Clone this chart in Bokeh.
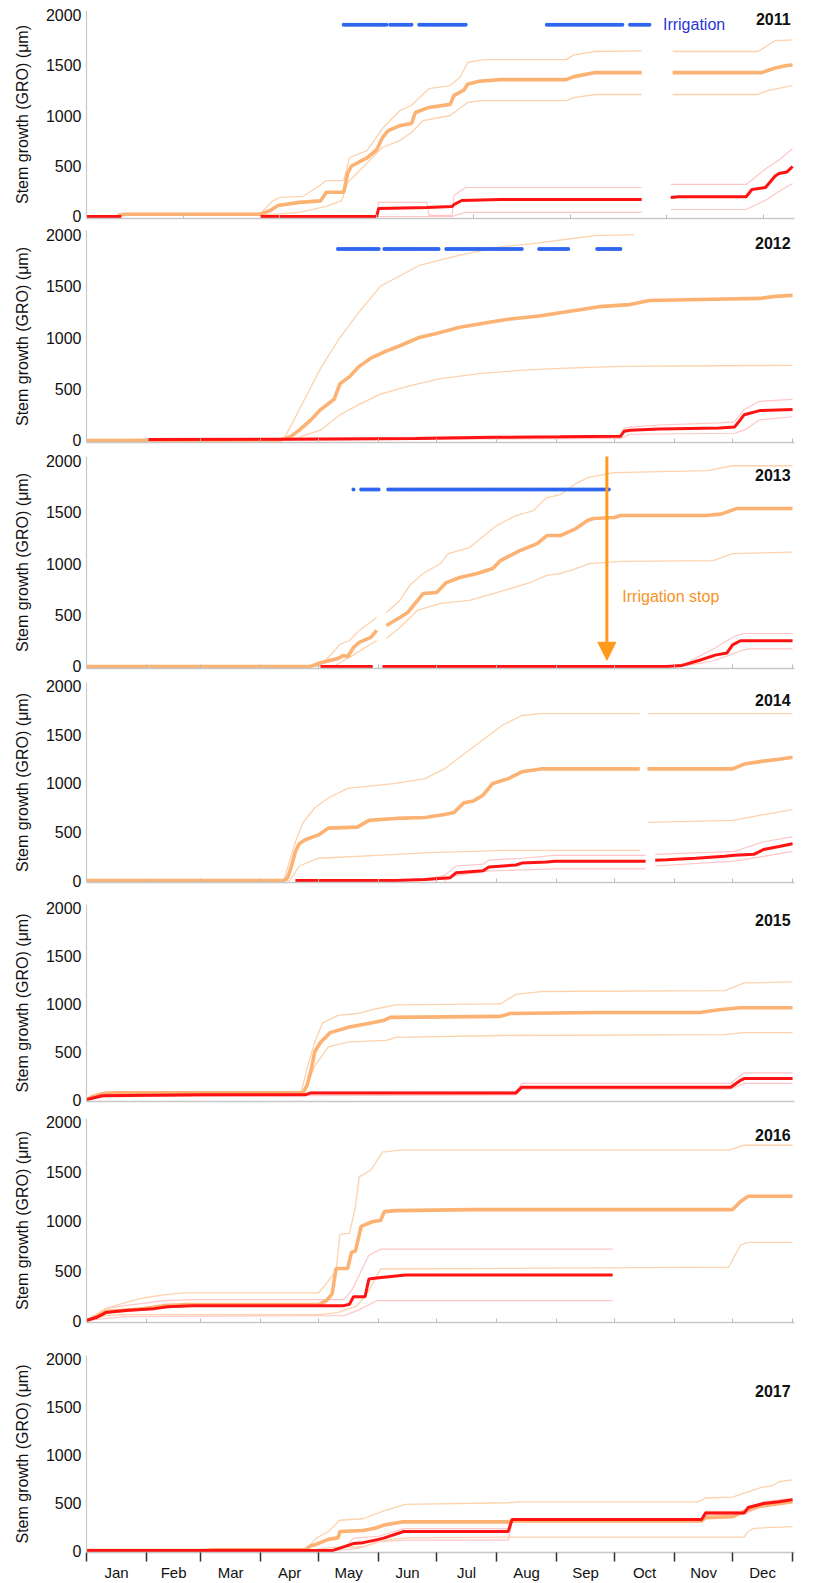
import math
from bokeh.plotting import figure
from bokeh.layouts import column
from bokeh.models import Range1d, FixedTicker, Arrow, NormalHead, Label
from bokeh.embed import file_html
from bokeh.resources import INLINE

GAP = None  # break in a series

YEARS = [2011, 2012, 2013, 2014, 2015, 2016, 2017]
MONTHS = ["Jan", "Feb", "Mar", "Apr", "May", "Jun", "Jul", "Aug", "Sep", "Oct", "Nov", "Dec"]
MONTH_START = [0, 31, 59, 90, 120, 151, 181, 212, 243, 273, 304, 334, 365]
Y_TICKS = [0, 500, 1000, 1500, 2000]
TICKS_2011 = [50, 100, 150, 200, 250, 300, 350]

# (day of year, stem growth in um); OM/OU/OL = irrigated mean/upper/lower, RM/RU/RL = control mean/upper/lower
OM_2011 = [(16, 10), (20, 22), (90, 22), (95, 60), (99, 109), (110, 140), (121, 155), (124, 240), (133, 240), (135, 430), (137, 500), (145, 580), (150, 660), (153, 780), (156, 850), (162, 900), (168, 920), (170, 1030), (177, 1080), (188, 1110), (190, 1200), (195, 1250), (197, 1310), (203, 1340), (214, 1355), (248, 1355), (252, 1385), (263, 1425), (287, 1425), GAP, (303, 1425), (349, 1425), (356, 1470), (362, 1495), (365, 1500)]
OU_2011 = [(16, 15), (20, 30), (90, 30), (96, 150), (100, 190), (112, 200), (120, 300), (124, 356), (133, 356), (136, 584), (145, 653), (153, 871), (162, 1049), (168, 1099), (177, 1267), (188, 1297), (193, 1376), (197, 1525), (205, 1554), (248, 1554), (252, 1600), (263, 1634), (287, 1640), GAP, (303, 1634), (347, 1634), (352, 1693), (356, 1742), (365, 1750)]
OL_2011 = [(16, 5), (20, 15), (92, 15), (100, 25), (110, 40), (124, 100), (132, 158), (135, 337), (153, 683), (162, 752), (168, 832), (174, 950), (188, 1000), (197, 1129), (203, 1148), (248, 1148), (252, 1178), (263, 1208), (287, 1208), GAP, (303, 1208), (347, 1208), (352, 1247), (365, 1297)]
RM_2011 = [(0, 0), (18, 0), GAP, (90, 0), (150, 0), (151, 80), (176, 90), (189, 100), (190, 119), (194, 158), (214, 168), (287, 168), GAP, (302, 188), (306, 195), (341, 195), (344, 267), (351, 287), (356, 400), (358, 425), (362, 440), (365, 495)]
RU_2011 = [(150, 0), (151, 139), (176, 139), (177, 10), (189, 10), (190, 210), (196, 287), (287, 287), GAP, (302, 317), (341, 317), (352, 485), (358, 560), (365, 673)]
RL_2011 = [(150, 0), (189, 0), (196, 40), (287, 40), GAP, (302, 69), (341, 69), (352, 170), (358, 250), (365, 327)]

OM_2012 = [(0, 0), (100, 5), (105, 30), (110, 100), (116, 200), (121, 300), (128, 400), (131, 550), (136, 620), (141, 720), (147, 800), (154, 860), (162, 920), (172, 1000), (183, 1050), (193, 1100), (209, 1150), (219, 1180), (234, 1210), (255, 1270), (265, 1300), (281, 1320), (291, 1360), (317, 1370), (348, 1380), (356, 1400), (365, 1410)]
OU_2012 = [(0, 0), (102, 10), (110, 300), (121, 700), (131, 1000), (141, 1250), (152, 1500), (172, 1700), (193, 1800), (214, 1880), (234, 1920), (250, 1960), (263, 1990), (283, 2000)]
OL_2012 = [(0, 0), (105, 0), (121, 100), (131, 250), (141, 350), (152, 450), (167, 530), (183, 600), (203, 650), (224, 680), (245, 700), (276, 720), (365, 730)]
RM_2012 = [(32, 8), (100, 12), (130, 15), (170, 20), (210, 30), (245, 35), (276, 40), (278, 90), (281, 100), (296, 110), (327, 120), (335, 130), (338, 200), (340, 250), (348, 290), (365, 300)]
RU_2012 = [(32, 10), (276, 45), (278, 120), (281, 130), (296, 150), (327, 170), (335, 180), (340, 300), (348, 380), (365, 400)]
RL_2012 = [(32, 0), (276, 20), (281, 60), (335, 70), (340, 100), (348, 200), (365, 230)]

OM_2013 = [(0, 0), (116, 0), (120, 30), (130, 78), (133, 107), (135, 95), (138, 184), (141, 233), (147, 282), (150, 350), GAP, (155, 398), (162, 476), (166, 524), (174, 708), (181, 718), (186, 815), (193, 864), (202, 903), (210, 951), (214, 1029), (224, 1126), (233, 1194), (238, 1272), (245, 1272), (253, 1340), (259, 1418), (262, 1437), (273, 1447), (276, 1466), (320, 1466), (328, 1480), (336, 1534), (365, 1534)]
OU_2013 = [(0, 0), (120, 0), (127, 126), (131, 214), (136, 252), (141, 350), (150, 476), GAP, (155, 524), (162, 641), (167, 786), (174, 903), (183, 1000), (187, 1097), (198, 1155), (212, 1369), (222, 1466), (231, 1515), (238, 1641), (245, 1670), (253, 1777), (259, 1835), (273, 1884), (321, 1903), (334, 1950), (365, 1950)]
OL_2013 = [(0, 0), (128, 0), (133, 58), (137, 100), (150, 252), GAP, (155, 272), (162, 379), (171, 544), (183, 612), (198, 641), (212, 718), (228, 806), (238, 884), (245, 903), (253, 951), (260, 1000), (276, 1020), (324, 1029), (334, 1097), (365, 1110)]
RM_2013 = [(121, 0), (148, 0), GAP, (153, 0), (300, 0), (308, 10), (317, 60), (325, 110), (331, 130), (334, 210), (338, 250), (365, 250)]
RU_2013 = [(300, 0), (310, 30), (317, 100), (325, 180), (331, 250), (336, 300), (340, 320), (365, 320)]
RL_2013 = [(305, 0), (317, 30), (325, 60), (331, 100), (338, 150), (342, 170), (365, 170)]

OM_2014 = [(0, 0), (102, 0), (104, 30), (106, 150), (108, 300), (110, 380), (113, 420), (120, 470), (125, 540), (140, 550), (146, 620), (160, 640), (175, 650), (185, 680), (190, 700), (195, 800), (200, 820), (205, 880), (210, 1000), (218, 1050), (225, 1120), (235, 1150), (286, 1150), GAP, (290, 1150), (334, 1150), (340, 1200), (350, 1230), (358, 1250), (365, 1270)]
OU_2014 = [(0, 0), (102, 0), (105, 200), (108, 400), (112, 600), (118, 750), (125, 850), (135, 950), (150, 980), (160, 1000), (175, 1050), (185, 1150), (195, 1300), (205, 1450), (215, 1600), (225, 1700), (235, 1720), (286, 1720), GAP, (290, 1720), (365, 1720)]
OL_2014 = [(0, 0), (105, 0), (110, 150), (120, 230), (140, 250), (160, 270), (180, 290), (200, 300), (215, 310), (286, 310), GAP, (290, 600), (334, 620), (350, 680), (365, 730)]
RM_2014 = [(108, 0), (160, 0), (175, 10), (188, 30), (191, 80), (205, 100), (208, 140), (222, 160), (225, 180), (238, 190), (242, 200), (289, 200), GAP, (294, 210), (300, 215), (315, 230), (330, 250), (335, 260), (345, 270), (350, 320), (358, 350), (365, 380)]
RU_2014 = [(170, 0), (185, 50), (191, 150), (205, 170), (208, 210), (225, 230), (242, 260), (289, 260), GAP, (294, 270), (335, 300), (350, 400), (365, 450)]
RL_2014 = [(185, 0), (191, 50), (208, 100), (242, 120), (289, 120), GAP, (294, 150), (335, 200), (350, 250), (365, 300)]

OM_2015 = [(0, 0), (3, 30), (8, 60), (15, 70), (112, 70), (114, 150), (116, 300), (118, 500), (121, 600), (126, 700), (136, 760), (147, 800), (154, 830), (157, 860), (214, 870), (219, 900), (265, 910), (317, 910), (327, 940), (338, 960), (365, 960)]
OU_2015 = [(0, 0), (10, 80), (111, 80), (115, 400), (118, 600), (122, 800), (130, 880), (140, 900), (150, 950), (160, 990), (214, 1000), (222, 1100), (235, 1130), (330, 1140), (340, 1220), (365, 1230)]
OL_2015 = [(0, 0), (10, 50), (112, 50), (118, 350), (125, 550), (135, 600), (155, 620), (160, 650), (214, 670), (330, 680), (340, 700), (365, 700)]
RM_2015 = [(0, 0), (4, 20), (8, 40), (60, 50), (113, 50), (116, 70), (222, 70), (225, 130), (333, 130), (338, 200), (340, 220), (365, 220)]
RU_2015 = [(0, 0), (10, 60), (113, 60), (116, 80), (222, 80), (225, 170), (333, 170), (340, 280), (365, 280)]
RL_2015 = [(0, 0), (10, 30), (113, 40), (222, 50), (225, 110), (333, 110), (340, 170), (365, 170)]

OM_2016 = [(0, 0), (5, 40), (10, 90), (18, 100), (30, 120), (40, 150), (50, 160), (120, 160), (124, 200), (127, 270), (129, 525), (135, 525), (137, 690), (139, 700), (142, 950), (148, 1000), (152, 1010), (154, 1100), (160, 1110), (200, 1120), (334, 1120), (338, 1200), (342, 1255), (365, 1255)]
OU_2016 = [(0, 0), (10, 120), (20, 180), (30, 230), (40, 260), (50, 280), (120, 280), (123, 350), (129, 500), (131, 870), (136, 880), (139, 1150), (141, 1450), (147, 1520), (149, 1580), (153, 1700), (162, 1720), (332, 1720), (340, 1770), (365, 1770)]
OL_2016 = [(0, 0), (10, 50), (20, 60), (120, 60), (130, 80), (140, 150), (146, 300), (152, 520), (332, 540), (338, 760), (342, 790), (365, 790)]
RM_2016 = [(0, 0), (5, 30), (10, 80), (20, 100), (35, 120), (42, 140), (55, 150), (133, 150), (136, 165), (138, 240), (144, 240), (146, 420), (150, 430), (165, 460), (272, 460)]
RU_2016 = [(0, 0), (10, 120), (20, 150), (40, 200), (55, 210), (133, 210), (137, 300), (146, 660), (152, 720), (272, 720)]
RL_2016 = [(0, 0), (20, 40), (133, 50), (140, 100), (150, 200), (272, 200)]

OM_2017 = [(0, 0), (60, 0), (65, 8), (113, 10), (116, 50), (119, 67), (125, 117), (130, 133), (131, 200), (143, 210), (149, 233), (154, 267), (163, 300), (218, 300), (220, 310), (318, 310), (320, 345), (334, 355), (340, 410), (347, 460), (358, 490), (365, 510)]
OU_2017 = [(0, 0), (113, 0), (119, 133), (125, 200), (131, 317), (143, 333), (154, 417), (165, 483), (218, 500), (224, 510), (316, 510), (320, 550), (334, 560), (340, 600), (349, 660), (355, 683), (358, 720), (365, 740)]
OL_2017 = [(0, 0), (114, 0), (127, 33), (143, 40), (151, 100), (165, 133), (218, 140), (340, 140), (342, 200), (345, 233), (365, 250)]
RM_2017 = [(0, 0), (127, 0), (138, 73), (143, 83), (151, 117), (154, 133), (164, 200), (218, 200), (220, 325), (318, 325), (320, 393), (340, 393), (342, 450), (350, 493), (358, 510), (365, 533)]
RU_2017 = [(127, 0), (135, 60), (138, 130), (151, 150), (164, 230), (218, 230), (220, 335), (318, 335), (320, 410), (340, 410), (350, 510), (365, 545)]
RL_2017 = [(127, 0), (140, 20), (151, 90), (164, 110), (218, 110), (220, 300), (318, 300), (320, 370), (340, 380), (350, 470), (365, 500)]

# irrigation periods (first day, last day) and the level where the dots are drawn
IRR_2011 = [(133, 155), (157, 168), (172, 196), (238, 277), (281, 291)]
IRR_2012 = [(130, 151), (154, 182), (186, 225), (234, 249), (264, 276)]
IRR_2013 = [(138, 138), (142, 151), (156, 270)]
IRR_LEVEL = {2011: 1900, 2012: 1860, 2013: 1720}
IRRIGATION_STOP_DAY = 269
YEAR_LABEL_Y = {2011: 1960, 2012: 1915, 2013: 1865, 2014: 1855, 2015: 1875, 2016: 1870, 2017: 1665}

SERIES = {
    2011: (OM_2011, OU_2011, OL_2011, RM_2011, RU_2011, RL_2011),
    2012: (OM_2012, OU_2012, OL_2012, RM_2012, RU_2012, RL_2012),
    2013: (OM_2013, OU_2013, OL_2013, RM_2013, RU_2013, RL_2013),
    2014: (OM_2014, OU_2014, OL_2014, RM_2014, RU_2014, RL_2014),
    2015: (OM_2015, OU_2015, OL_2015, RM_2015, RU_2015, RL_2015),
    2016: (OM_2016, OU_2016, OL_2016, RM_2016, RU_2016, RL_2016),
    2017: (OM_2017, OU_2017, OL_2017, RM_2017, RU_2017, RL_2017),
}
IRR = {2011: IRR_2011, 2012: IRR_2012, 2013: IRR_2013}

# layout (pixels)
FRAME_H = [208, 212, 212, 200, 197, 204, 197]
BORDER_T = [10, 5, 7, 7, 15, 10, 26]
BORDER_B = [7, 7, 7, 7, 7, 7, 29]

FONT = "Liberation Sans"
C_OM = "#FCB272"
C_OT = "#FDD2AC"
C_RM = "#FF1212"
C_RT = "#FFC6C6"
C_BLUE = "#2F66F0"
C_AXIS = "#c8c8c8"
C_ARROW = "#FF9A1C"


def xy(pts):
    xs, ys = [], []
    for p in pts:
        if p is None:
            xs.append(float("nan"))
            ys.append(float("nan"))
        else:
            xs.append(p[0])
            ys.append(p[1])
    return xs, ys


figs = []
for i, yr in enumerate(YEARS):
    last = (i == len(YEARS) - 1)
    p = figure(frame_width=708, frame_height=FRAME_H[i],
               x_range=Range1d(0, 366), y_range=Range1d(-20, 2040),
               output_backend="svg", toolbar_location=None,
               min_border_left=86, min_border_right=6,
               min_border_top=BORDER_T[i], min_border_bottom=BORDER_B[i])
    p.outline_line_color = None
    p.grid.visible = False
    p.background_fill_color = "white"
    p.border_fill_color = "white"

    # y axis
    ya = p.yaxis[0]
    ya.ticker = FixedTicker(ticks=Y_TICKS)
    ya.major_tick_in = 0
    ya.major_tick_out = 0
    ya.minor_tick_in = 0
    ya.minor_tick_out = 0
    ya.axis_line_color = C_AXIS
    ya.axis_line_width = 1.2
    ya.major_label_text_font = FONT
    ya.major_label_text_font_size = "16px"
    ya.major_label_text_color = "#111111"
    ya.major_label_standoff = 5
    ya.axis_label = "Stem growth (GRO) (μm)"
    ya.axis_label_text_font = FONT
    ya.axis_label_text_font_size = "16px"
    ya.axis_label_text_font_style = "normal"
    ya.axis_label_text_color = "#111111"
    ya.axis_label_standoff = 12

    # x axis
    xa = p.xaxis[0]
    xa.axis_line_color = C_AXIS
    xa.axis_line_width = 1.5
    if last:
        mids = [(MONTH_START[k] + MONTH_START[k + 1]) / 2 for k in range(12)]
        xa.ticker = FixedTicker(ticks=mids, minor_ticks=MONTH_START)
        xa.major_label_overrides = {m: MONTHS[k] for k, m in enumerate(mids)}
        xa.major_tick_in = 0
        xa.major_tick_out = 0
        xa.minor_tick_in = 0
        xa.minor_tick_out = 9
        xa.minor_tick_line_color = "#333333"
        xa.minor_tick_line_width = 1.5
        xa.major_label_standoff = 2
        xa.major_label_text_font = FONT
        xa.major_label_text_font_size = "15px"
        xa.major_label_text_color = "#111111"
    else:
        if yr == 2011:
            minor = TICKS_2011
        elif yr == 2015:
            minor = []
        else:
            minor = MONTH_START[1:]
        xa.ticker = FixedTicker(ticks=[], minor_ticks=minor)
        xa.major_tick_in = 0
        xa.major_tick_out = 0
        xa.minor_tick_in = 4
        xa.minor_tick_out = 0
        xa.minor_tick_line_color = "#bbbbbb"
        xa.minor_tick_line_width = 1
        xa.major_label_standoff = 0

    om, ou, ol, rm, ru, rl = SERIES[yr]
    for pts in (ru, rl):
        x, y = xy(pts)
        p.line(x, y, line_color=C_RT, line_width=1.2)
    for pts in (ou, ol):
        x, y = xy(pts)
        p.line(x, y, line_color=C_OT, line_width=1.3)
    x, y = xy(om)
    p.line(x, y, line_color=C_OM, line_width=3.6)
    x, y = xy(rm)
    p.line(x, y, line_color=C_RM, line_width=3)

    if yr in IRR:
        days = []
        for a, b in IRR[yr]:
            days.extend(range(a, b + 1))
        p.scatter(days, [IRR_LEVEL[yr]] * len(days), marker="circle", size=4,
                  fill_color=C_BLUE, line_color=None)
    if yr == 2011:
        p.add_layout(Label(x=298, y=IRR_LEVEL[yr], text="Irrigation", text_color="#2B36D6",
                           text_font=FONT, text_font_size="16px", text_baseline="middle"))
    if yr == 2013:
        p.add_layout(Arrow(end=NormalHead(size=18, fill_color=C_ARROW, line_color=C_ARROW),
                           x_start=IRRIGATION_STOP_DAY, y_start=2060,
                           x_end=IRRIGATION_STOP_DAY, y_end=60,
                           line_color=C_ARROW, line_width=3))
        p.add_layout(Label(x=IRRIGATION_STOP_DAY + 8, y=680, text="Irrigation stop",
                           text_color="#F7931E", text_font=FONT, text_font_size="16px",
                           text_baseline="middle"))

    p.add_layout(Label(x=364, y=YEAR_LABEL_Y[yr], text=str(yr), text_align="right",
                       text_baseline="middle", text_font=FONT, text_font_size="16px",
                       text_font_style="bold", text_color="#111111"))
    figs.append(p)

layout = column(*figs, spacing=0)
open("out.html", "w").write(file_html(layout, INLINE))
